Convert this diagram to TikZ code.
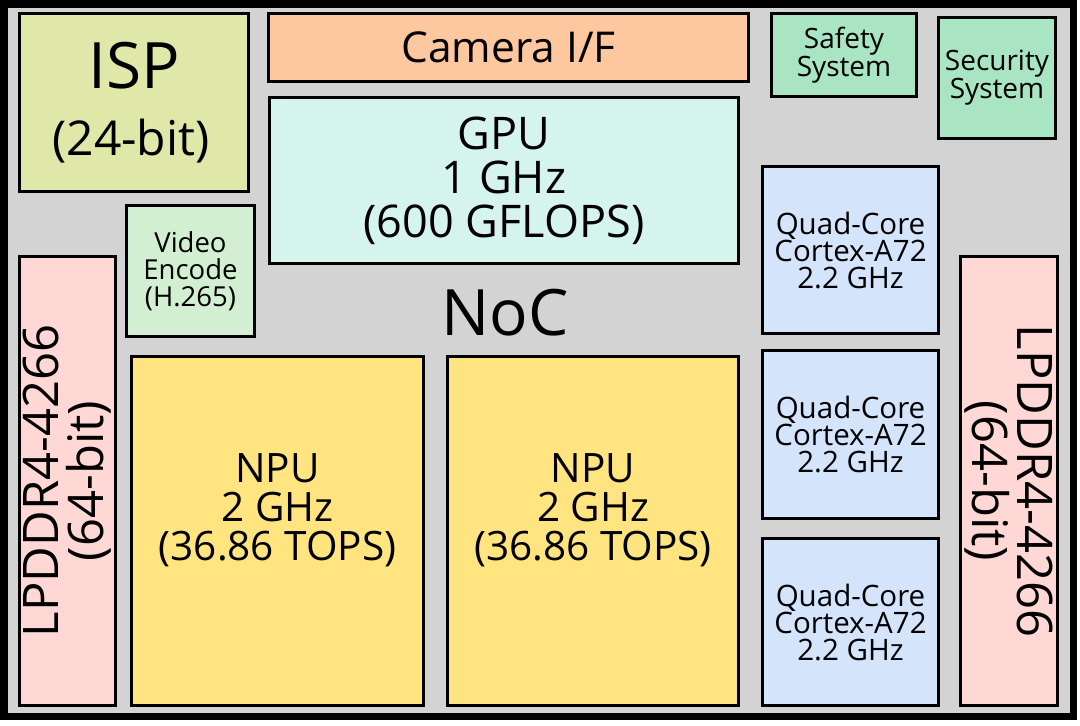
\documentclass[tikz,border=0pt]{standalone}
\usepackage{fontspec}
\setmainfont{Open Sans}
\definecolor{frameGray}{HTML}{D3D3D3}
\definecolor{ispC}{HTML}{DFE7A9}
\definecolor{camC}{HTML}{FDC8A0}
\definecolor{safeC}{HTML}{A9E5C2}
\definecolor{gpuC}{HTML}{D6F4EE}
\definecolor{vidC}{HTML}{D3EFD1}
\definecolor{memC}{HTML}{FFD7D5}
\definecolor{npuC}{HTML}{FFE480}
\definecolor{cpuC}{HTML}{D3E4FB}
\newcommand{\fs}[2]{\fontsize{#1}{#2}\selectfont}
\begin{document}
\begin{tikzpicture}[x=1pt,y=-1pt,
  blockbox/.style={draw=black,line width=3pt,inner sep=0pt,outer sep=0pt,align=center,text=black},
  lbl/.style={inner sep=0pt,outer sep=0pt,align=center,text=black}]
\useasboundingbox (0,0) rectangle (1080,726);
\fill[white] (0,0) rectangle (1080,726);
\node[draw=black,line width=7.5pt,fill=frameGray,inner sep=0pt,outer sep=0pt,minimum width=1069.5pt,minimum height=712.5pt] (chip) at (538.5,360) {};
% blocks
\node[blockbox,fill=ispC,minimum width=229pt,minimum height=178pt] (isp) at (134,102.5) {};
\node[lbl,font=\fs{64}{70}] (isptitle) at (134,66) {ISP};
\node[lbl,font=\fs{48}{52}] (ispbits) at (131,141) {(24-bit)};
\node[blockbox,fill=camC,minimum width=480pt,minimum height=68pt,font=\fs{42.5}{46}] (cam) at (508.5,47.5) {Camera I/F};
\node[blockbox,fill=safeC,minimum width=145pt,minimum height=83pt,font=\fs{28}{27}] (safety) at (844,55) {Safety\\System};
\node[blockbox,fill=safeC,minimum width=117pt,minimum height=121pt,font=\fs{28}{27}] (security) at (997,78) {Security\\System};
\node[blockbox,fill=gpuC,minimum width=469pt,minimum height=166pt,font=\fs{45}{44}] (gpu) at (504,180.5) {GPU\\1 GHz\\(600 GFLOPS)};
\node[blockbox,fill=vidC,minimum width=128pt,minimum height=131pt,font=\fs{27.5}{27}] (video) at (190.5,271) {Video\\Encode\\(H.265)};
\node[blockbox,fill=memC,minimum width=96pt,minimum height=449pt] (memL) at (67.5,481) {};
\node[lbl,rotate=90,font=\fs{49}{45}] (memLtext) at (memL.center) {LPDDR4-4266\\(64-bit)};
\node[blockbox,fill=memC,minimum width=97pt,minimum height=449pt] (memR) at (1009,481) {};
\node[lbl,rotate=-90,font=\fs{49}{45}] (memRtext) at (memR.center) {LPDDR4-4266\\(64-bit)};
\node[lbl,font=\fs{64}{70}] (noc) at (505,313) {NoC};
\node[blockbox,fill=npuC,minimum width=292pt,minimum height=349pt] (npuA) at (277.5,531) {};
\node[lbl,font=\fs{40.5}{39}] (npuAtext) at (277.5,510) {NPU\\2 GHz\\(36.86 TOPS)};
\node[blockbox,fill=npuC,minimum width=291pt,minimum height=349pt] (npuB) at (593,531) {};
\node[lbl,font=\fs{40.5}{39}] (npuBtext) at (593,510) {NPU\\2 GHz\\(36.86 TOPS)};
\node[blockbox,fill=cpuC,minimum width=176pt,minimum height=167pt,font=\fs{29.5}{27}] (cpuA) at (850.5,250) {Quad-Core\\Cortex-A72\\2.2 GHz};
\node[blockbox,fill=cpuC,minimum width=176pt,minimum height=168pt,font=\fs{29.5}{27}] (cpuB) at (850.5,434.5) {Quad-Core\\Cortex-A72\\2.2 GHz};
\node[blockbox,fill=cpuC,minimum width=176pt,minimum height=167pt,font=\fs{29.5}{27}] (cpuC) at (850.5,622) {Quad-Core\\Cortex-A72\\2.2 GHz};
\end{tikzpicture}
\end{document}
